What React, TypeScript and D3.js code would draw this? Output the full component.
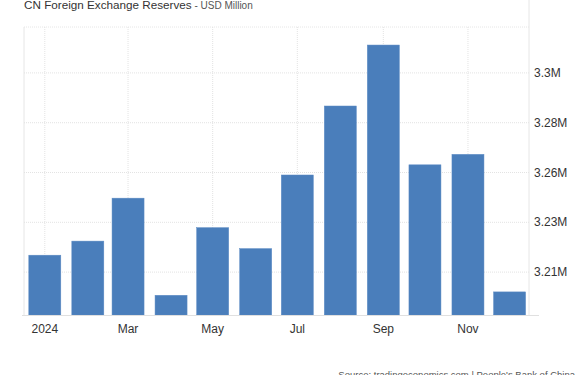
import * as d3 from 'd3';

const months = [
  '2024-01-01', '2024-02-01', '2024-03-01', '2024-04-01', '2024-05-01', '2024-06-01',
  '2024-07-01', '2024-08-01', '2024-09-01', '2024-10-01', '2024-11-01', '2024-12-01',
];
// USD million
const reserves = [
  3219320, 3225820, 3245657, 3200801, 3232037, 3222360,
  3256355, 3288215, 3316370, 3261049, 3265888, 3202364,
];
const yTicks = [3211500, 3234500, 3257500, 3280500, 3303500];
const yTickLabels = ['3.21M', '3.23M', '3.26M', '3.28M', '3.3M'];
const xTicks = ['2024-01-01', '2024-03-01', '2024-05-01', '2024-07-01', '2024-09-01', '2024-11-01'];
const xTickLabels = ['2024', 'Mar', 'May', 'Jul', 'Sep', 'Nov'];

const W = 585;
const H = 375;
const plot = { left: 24, right: 529, top: 27, bottom: 315 };
const font = '"Liberation Sans", Arial, sans-serif';

const App = () => {
  const parse = d3.timeParse('%Y-%m-%d');
  const x = d3.scaleTime()
    .domain([new Date(2023, 11, 17), new Date(2024, 11, 15)])
    .range([plot.left, plot.right]);
  const y = d3.scaleLinear()
    .domain([3191700, 3324700])
    .range([plot.bottom, plot.top]);
  const barW = 32;

  return (
    <svg width={W} height={H} style={{ position: 'absolute', left: 0, top: 0, background: '#fff' }}>
      {/* title */}
      <text x={24} y={8.5} fontFamily={font} fontSize={11.7} fill="#333">
        CN Foreign Exchange Reserves
        <tspan fontSize={10} fill="#555"> - USD Million</tspan>
      </text>

      {/* grid */}
      <line x1={plot.left} x2={plot.right} y1={plot.top} y2={plot.top} stroke="#e6e6e6" strokeDasharray="1,1" />
      <line x1={plot.left} x2={plot.left} y1={plot.top} y2={plot.bottom} stroke="#e6e6e6" />
      {yTicks.map((t) => (
        <line key={t} x1={plot.left} x2={plot.right} y1={y(t)} y2={y(t)}
          stroke="#e3e3e3" strokeDasharray="1,1" />
      ))}
      {xTicks.map((t) => (
        <line key={t} x1={x(parse(t)!)} x2={x(parse(t)!)} y1={plot.top} y2={plot.bottom}
          stroke="#e3e3e3" strokeDasharray="1,1" />
      ))}
      <line x1={plot.right} x2={plot.right} y1={plot.top - 27} y2={plot.bottom} stroke="#e6e6e6" />

      {/* bars */}
      {reserves.map((v, i) => {
        const cx = x(parse(months[i])!);
        return (
          <rect key={months[i]} x={cx - barW / 2} y={y(v)} width={barW}
            height={plot.bottom - y(v)} fill="#4a7ebb" stroke="#5b8ac3" strokeWidth={0.5} />
        );
      })}

      {/* bottom axis line */}
      <line x1={plot.left - 2} x2={plot.right + 10} y1={plot.bottom + 0.5} y2={plot.bottom + 0.5} stroke="#e0e0e0" />

      {/* y labels */}
      {yTicks.map((t, i) => (
        <text key={t} x={534} y={y(t) + 4} fontFamily={font} fontSize={12} fill="#333">
          {yTickLabels[i]}
        </text>
      ))}

      {/* x labels */}
      {xTicks.map((t, i) => (
        <text key={t} x={x(parse(t)!)} y={333} textAnchor="middle" fontFamily={font} fontSize={12} fill="#333">
          {xTickLabels[i]}
        </text>
      ))}

      {/* source */}
      <text x={575} y={378} textAnchor="end" fontFamily={font} fontSize={9.5} fill="#555">
        Source: tradingeconomics.com | People's Bank of China
      </text>
    </svg>
  );
};

export default App;
